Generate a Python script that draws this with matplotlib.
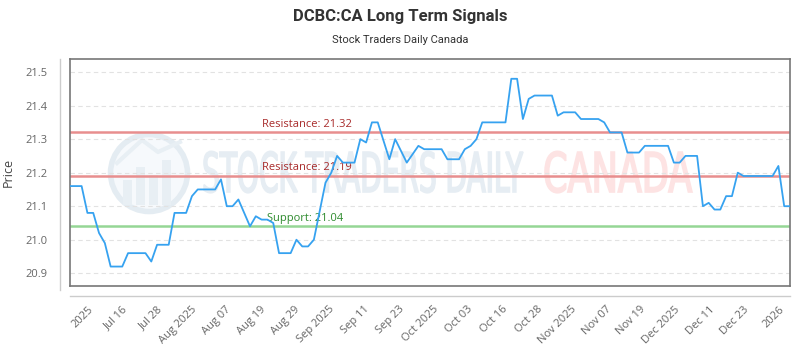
import numpy as np
import matplotlib
matplotlib.use("Agg")
import matplotlib.pyplot as plt
from matplotlib.patches import Circle, Rectangle, PathPatch
from matplotlib.textpath import TextPath
from matplotlib.font_manager import FontProperties
from matplotlib.lines import Line2D
from matplotlib.transforms import Affine2D, IdentityTransform

# Daily closing prices (one value per trading session)
prices = [
    21.16, 21.16, 21.16, 21.08, 21.08, 21.02, 20.99, 20.92, 20.92, 20.92,
    20.96, 20.96, 20.96, 20.96, 20.935, 20.985, 20.985, 20.985, 21.08, 21.08,
    21.08, 21.13, 21.15, 21.15, 21.15, 21.15, 21.18, 21.10, 21.10, 21.12,
    21.08, 21.04, 21.07, 21.06, 21.06, 21.05, 20.96, 20.96, 20.96, 21.00,
    20.98, 20.98, 21.00, 21.085, 21.17, 21.20, 21.25, 21.23, 21.23, 21.23,
    21.30, 21.29, 21.35, 21.35, 21.295, 21.24, 21.30, 21.265, 21.23, 21.255,
    21.28, 21.27, 21.27, 21.27, 21.27, 21.24, 21.24, 21.24, 21.27, 21.28,
    21.30, 21.35, 21.35, 21.35, 21.35, 21.35, 21.48, 21.48, 21.36, 21.42,
    21.43, 21.43, 21.43, 21.43, 21.37, 21.38, 21.38, 21.38, 21.36, 21.36,
    21.36, 21.36, 21.35, 21.32, 21.32, 21.32, 21.26, 21.26, 21.26, 21.28,
    21.28, 21.28, 21.28, 21.28, 21.23, 21.23, 21.25, 21.25, 21.25, 21.10,
    21.11, 21.09, 21.09, 21.13, 21.13, 21.20, 21.19, 21.19, 21.19, 21.19,
    21.19, 21.19, 21.22, 21.10, 21.10,
]

x_labels = [
    "2025", "Jul 16", "Jul 28", "Aug 2025", "Aug 07", "Aug 19", "Aug 29",
    "Sep 2025", "Sep 11", "Sep 23", "Oct 2025", "Oct 03", "Oct 16", "Oct 28",
    "Nov 2025", "Nov 07", "Nov 19", "Dec 2025", "Dec 11", "Dec 23", "2026",
]

resistance_levels = [21.32, 21.19]
support_level = 21.04

LINE_BLUE = "#36a2f0"
RES_LINE = "#e88e8e"
RES_TEXT = "#a82a2a"
SUP_LINE = "#95d695"
SUP_TEXT = "#2e8b2e"
TICK_GREY = "#666666"

W, H = 800, 350
fig = plt.figure(figsize=(8, 3.5), dpi=100)
ax = fig.add_axes([70 / W, 1 - 286 / H, 720 / W, 227 / H])

# faint watermark: logo circle + text behind the data
logo_c = (1.49, 3.5 - 1.73)
fig.add_artist(Circle(logo_c, 0.385, transform=fig.dpi_scale_trans,
                      facecolor="#f6f9fc", edgecolor="#e4ecf2", lw=4, zorder=0))
for bx, bh in zip([1.23, 1.36, 1.49, 1.62], [0.25, 0.38, 0.30, 0.45]):
    fig.add_artist(Rectangle((bx, 3.5 - 2.05), 0.09, bh, transform=fig.dpi_scale_trans,
                             facecolor="#e8eff4", edgecolor="none", zorder=0))
fig.add_artist(Line2D([1.17, 1.42, 1.58, 1.80], [3.5 - 1.63, 3.5 - 1.40, 3.5 - 1.52, 3.5 - 1.42],
                      transform=fig.dpi_scale_trans, color="#e8eff4", lw=3, zorder=0))


def squeezed_text(s, x0, x1, ybase, cap, color):
    # text scaled to fit a given pixel box (condensed look)
    tp = TextPath((0, 0), s, size=100,
                  prop=FontProperties(family="DejaVu Sans"))
    ext = tp.get_extents()
    sx = (x1 - x0) / ext.width
    sy = cap / 73.0
    tr = Affine2D().translate(-ext.x0, 0).scale(sx, sy).translate(x0, H - ybase)
    fig.add_artist(PathPatch(tr.transform_path(tp), transform=IdentityTransform(),
                             facecolor=color, edgecolor=color, lw=1.2, zorder=0))


squeezed_text("STOCK TRADERS DAILY", 204, 523, 192, 40, "#e6edf3")
squeezed_text("CANADA", 545, 692, 192, 40, "#fde3e3")

xs = np.arange(len(prices))
ax.set_facecolor("none")
for lvl in resistance_levels:
    ax.axhline(lvl, color=RES_LINE, lw=1.8, zorder=2)
    ax.text(33, lvl + 0.008, f"Resistance: {lvl:.2f}", color=RES_TEXT,
            fontsize=8, family="Open Sans", va="bottom", ha="left", zorder=3)
ax.axhline(support_level, color=SUP_LINE, lw=1.8, zorder=2)
ax.text(34, support_level + 0.008, f"Support: {support_level:.2f}", color=SUP_TEXT,
        fontsize=8, family="Open Sans", va="bottom", ha="left", zorder=3)

ax.plot(xs, prices, color=LINE_BLUE, lw=1.3, zorder=4)

ax.set_xlim(0, len(prices) - 1)
ax.set_ylim(20.862, 21.539)
yticks = [20.9, 21.0, 21.1, 21.2, 21.3, 21.4, 21.5]
ax.set_yticks(yticks)
ax.set_yticklabels([f"{v:.1f}" for v in yticks])
ax.yaxis.grid(True, color="#e2e2e2", ls=(0, (4, 3)), lw=0.8)
ax.set_axisbelow(True)

ax.set_xticks(np.linspace(3, len(prices) - 3, len(x_labels)))
ax.set_xticklabels(x_labels, rotation=45, ha="right", rotation_mode="anchor")
ax.tick_params(axis="both", length=0, colors=TICK_GREY, labelsize=8)
ax.tick_params(axis="x", pad=13)
ax.tick_params(axis="y", pad=16)
for lab in ax.get_xticklabels() + ax.get_yticklabels():
    lab.set_family("Open Sans")
for sp in ax.spines.values():
    sp.set_color("#777777")
    sp.set_linewidth(1.2)

ax.set_ylabel("Price", fontsize=9, color="#444444", family="Open Sans", labelpad=8)

# outer axis lines
fig.add_artist(Line2D([70 / W, 790 / W], [1 - 296 / H] * 2, color="#cccccc", lw=1))
fig.add_artist(Line2D([60 / W] * 2, [1 - 290 / H, 1 - 59 / H], color="#cccccc", lw=1))

fig.text(0.5, 1 - 16 / H, "DCBC:CA Long Term Signals", ha="center", va="center",
         fontsize=12, fontweight="bold", color="#333333", family="Roboto")
fig.text(0.5, 1 - 40 / H, "Stock Traders Daily Canada", ha="center", va="center",
         fontsize=8, color="#333333", family="Roboto")

fig.savefig("out.png", dpi=100)
